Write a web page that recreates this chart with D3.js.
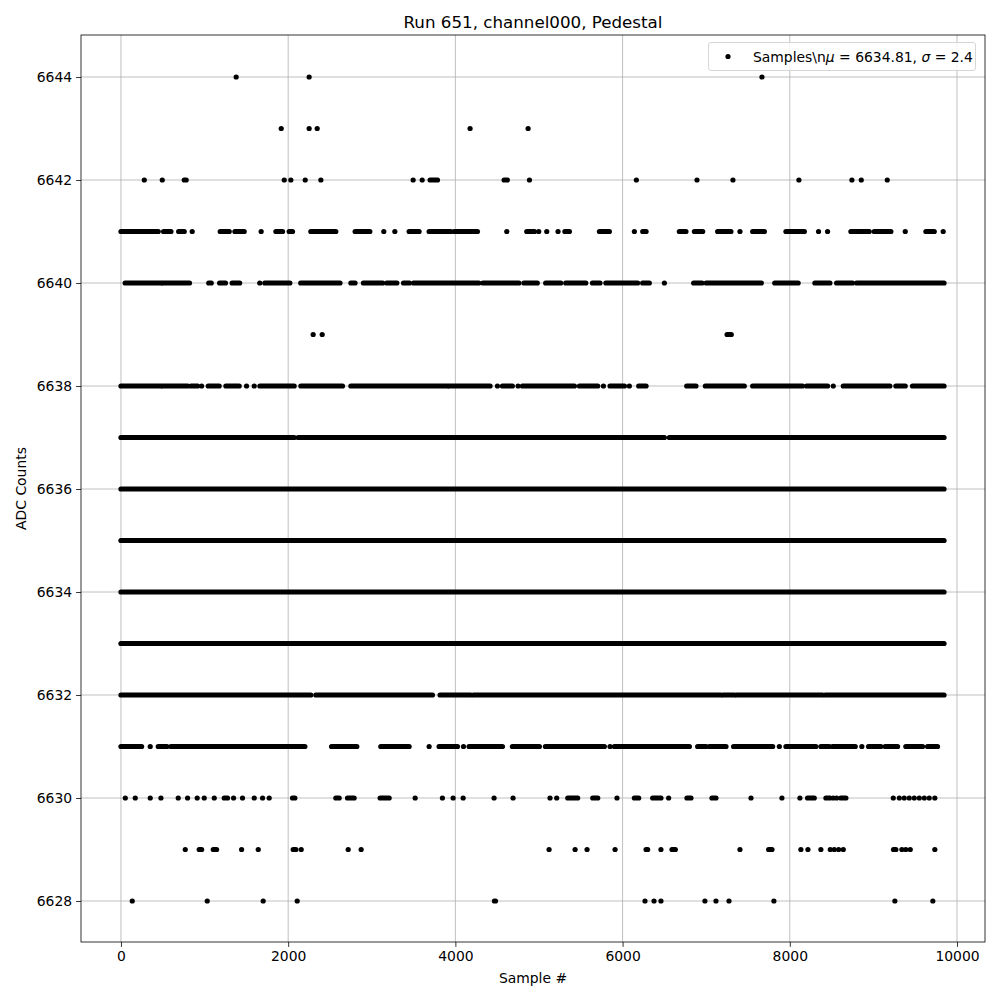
<!DOCTYPE html>
<html>
<head>
<meta charset="utf-8">
<script src="https://cdn.jsdelivr.net/npm/d3@7"></script>
<style>
  body { margin: 0; background: #fff; }
  svg text { font-family: "DejaVu Sans", sans-serif; fill: #000; }
</style>
</head>
<body>
<svg id="graph" width="1000" height="1000"></svg>
<script>
// Niveaux ADC et runs d'échantillons [début, fin]
const levels = [6628, 6629, 6630, 6631, 6632, 6633, 6634, 6635, 6636, 6637, 6638, 6639, 6640, 6641, 6642, 6643, 6644];
const xTicks = [0, 2000, 4000, 6000, 8000, 10000];
const yTicks = [6628, 6630, 6632, 6634, 6636, 6638, 6640, 6642, 6644];

const runs6644 = [[1378, 1378], [2251, 2251], [7667, 7667]];
const runs6643 = [[1917, 1917], [2251, 2251], [2347, 2347], [4176, 4176], [4870, 4870]];
const runs6642 = [[279, 279], [494, 494], [757, 780], [1953, 1953], [2032, 2032], [2204, 2204], [2391, 2391],
  [3495, 3495], [3603, 3603], [3698, 3786], [4583, 4622], [4886, 4886], [6165, 6165], [6890, 6890],
  [7320, 7320], [8109, 8109], [8743, 8743], [8855, 8855], [9166, 9166]];
const runs6641 = [[0, 446], [510, 598], [690, 757], [852, 852], [1187, 1295], [1363, 1474], [1677, 1677],
  [1853, 1933], [2012, 2052], [2271, 2570], [2801, 2977], [3144, 3144], [3276, 3276], [3447, 3566],
  [3686, 3945], [3985, 4264], [4615, 4615], [4854, 4946], [4997, 4997], [5093, 5093], [5228, 5228],
  [5310, 5364], [5723, 5842], [6141, 6141], [6241, 6281], [6679, 6758], [6859, 6958], [7137, 7296],
  [7404, 7404], [7556, 7696], [7954, 8174], [8344, 8344], [8452, 8452], [8731, 8950], [9010, 9209],
  [9381, 9381], [9628, 9728], [9835, 9835]];
const runs6640 = [[50, 480], [500, 820], [1050, 1080], [1180, 1250], [1330, 1420], [1660, 1660],
  [1720, 2020], [2150, 2620], [2750, 2800], [2900, 3130], [3180, 3300], [3380, 3450], [3500, 4280],
  [4330, 4760], [4820, 4980], [5080, 5260], [5320, 5560], [5640, 5730], [5800, 6180], [6240, 6320],
  [6500, 6500], [6850, 6950], [7000, 7660], [7820, 8100], [8300, 8480], [8560, 8750], [8800, 9845]];
const runs6639 = [[2299, 2299], [2407, 2407], [7250, 7300]];
const runs6638 = [[0, 478], [498, 797], [837, 917], [965, 965], [1044, 1175], [1255, 1414], [1502, 1502],
  [1594, 1594], [1662, 2072], [2152, 2650], [2750, 3905], [3925, 4415], [4503, 4503], [4563, 4682],
  [4750, 4750], [4802, 5424], [5484, 5703], [5771, 5771], [5850, 6022], [6081, 6081], [6193, 6281],
  [6767, 6878], [6990, 7456], [7556, 8153], [8201, 8452], [8520, 8520], [8640, 9197], [9269, 9381],
  [9468, 9845]];
const runs6637 = [[0, 2072], [2120, 6500], [6560, 9845]];
const runs6636 = [[0, 9845]];
const runs6635 = [[0, 9845]];
const runs6634 = [[0, 9845]];
const runs6633 = [[0, 9845]];
const runs6632 = [[0, 2271], [2331, 3726], [3817, 4184], [4216, 7177], [7205, 7337], [7364, 8392], [8424, 9845]];
const runs6631 = [[0, 247], [350, 350], [446, 550], [598, 2200], [2519, 2821], [3108, 3447], [3686, 3686],
  [3805, 4025], [4097, 4097], [4164, 4563], [4682, 5005], [5077, 5782], [5850, 5850], [5902, 6799],
  [6898, 6998], [7038, 7237], [7328, 7795], [7875, 7875], [7954, 8312], [8372, 8472], [8512, 8783],
  [8862, 8862], [8942, 9089], [9141, 9289], [9388, 9588], [9648, 9767]];
const runs6630 = [[52, 52], [171, 171], [350, 350], [478, 478], [685, 685], [797, 797], [912, 912],
  [996, 996], [1116, 1116], [1235, 1275], [1347, 1347], [1454, 1454], [1594, 1594], [1694, 1694],
  [1773, 1773], [2052, 2080], [2570, 2610], [2710, 2789], [3100, 3208], [3519, 3519], [3845, 3845],
  [3973, 3973], [4093, 4093], [4463, 4463], [4690, 4690], [5132, 5132], [5212, 5212], [5344, 5463],
  [5643, 5703], [5933, 5933], [6141, 6193], [6360, 6459], [6551, 6551], [6770, 6818], [7069, 7117],
  [7536, 7536], [7906, 7906], [8121, 8121], [8213, 8293], [8432, 8480], [8520, 8520], [8560, 8560],
  [8610, 8671], [9238, 9238], [9310, 9310], [9369, 9369], [9429, 9429], [9489, 9489], [9549, 9549],
  [9609, 9609], [9668, 9668], [9735, 9735]];
const runs6629 = [[769, 769], [936, 965], [1104, 1144], [1443, 1443], [1642, 1642], [2060, 2092],
  [2156, 2156], [2718, 2718], [2873, 2873], [5121, 5121], [5432, 5432], [5575, 5575], [5910, 5910],
  [6281, 6300], [6459, 6459], [6591, 6631], [7404, 7404], [7747, 7787], [8133, 8133], [8217, 8217],
  [8372, 8372], [8484, 8484], [8532, 8532], [8584, 8584], [8640, 8640], [9241, 9269], [9341, 9341],
  [9388, 9388], [9441, 9441], [9735, 9735]];
const runs6628 = [[135, 135], [1032, 1032], [1701, 1701], [2108, 2108], [4467, 4480], [6268, 6268],
  [6376, 6376], [6459, 6459], [6985, 6985], [7117, 7117], [7273, 7273], [7810, 7810], [9257, 9257],
  [9711, 9711]];

const runsParNiveau = {
  6628: runs6628, 6629: runs6629, 6630: runs6630, 6631: runs6631, 6632: runs6632, 6633: runs6633,
  6634: runs6634, 6635: runs6635, 6636: runs6636, 6637: runs6637, 6638: runs6638, 6639: runs6639,
  6640: runs6640, 6641: runs6641, 6642: runs6642, 6643: runs6643, 6644: runs6644
};

// Table plate des segments
const segments = [];
levels.forEach(lvl => runsParNiveau[lvl].forEach(r => segments.push({ y: lvl, x0: r[0], x1: r[1] })));

const margeG = 81, margeD = 985, margeH = 35, margeB = 942;
const svg = d3.select("svg");

const xScale = d3.scaleLinear().domain([-478, 10335]).range([margeG, margeD]);
const yScale = d3.scaleLinear().domain([6627.204, 6644.816]).range([margeB, margeH]);

// Grille
const grille = svg.append("g");
grille.selectAll(".gx").data(xTicks).enter().append("line")
  .attr("x1", d => xScale(d)).attr("x2", d => xScale(d))
  .attr("y1", margeH).attr("y2", margeB)
  .attr("stroke", "#b0b0b0").attr("stroke-width", 0.8);
grille.selectAll(".gy").data(yTicks).enter().append("line")
  .attr("x1", margeG).attr("x2", margeD)
  .attr("y1", d => yScale(d)).attr("y2", d => yScale(d))
  .attr("stroke", "#b0b0b0").attr("stroke-width", 0.8);

// Points (segments continus pour les runs denses)
const pts = svg.append("g");
pts.selectAll("line.run").data(segments.filter(s => s.x1 > s.x0)).enter().append("line")
  .attr("class", "run")
  .attr("x1", d => xScale(d.x0)).attr("x2", d => xScale(d.x1))
  .attr("y1", d => yScale(d.y)).attr("y2", d => yScale(d.y))
  .attr("stroke", "#000").attr("stroke-width", 5.2).attr("stroke-linecap", "round");
pts.selectAll("circle").data(segments.filter(s => s.x1 === s.x0)).enter().append("circle")
  .attr("cx", d => xScale(d.x0)).attr("cy", d => yScale(d.y)).attr("r", 2.6)
  .attr("fill", "#000");

// Axes
const xAxis = svg.append("g").attr("transform", `translate(0,${margeB})`)
  .call(d3.axisBottom(xScale).tickValues(xTicks).tickFormat(d3.format("d")).tickSizeOuter(0).tickSize(4.9).tickPadding(4));
const yAxis = svg.append("g").attr("transform", `translate(${margeG},0)`)
  .call(d3.axisLeft(yScale).tickValues(yTicks).tickFormat(d3.format("d")).tickSizeOuter(0).tickSize(4.9).tickPadding(4));
[xAxis, yAxis].forEach(a => {
  a.select(".domain").remove();
  a.selectAll(".tick line").attr("stroke", "#000").attr("stroke-width", 0.8);
  a.selectAll(".tick text").style("font-size", "13.9px").style("font-family", "DejaVu Sans");
});

// Cadre
svg.append("rect").attr("x", margeG).attr("y", margeH)
  .attr("width", margeD - margeG).attr("height", margeB - margeH)
  .attr("fill", "none").attr("stroke", "#000").attr("stroke-width", 0.8);

// Titres
svg.append("text").text("Run 651, channel000, Pedestal")
  .attr("x", (margeG + margeD) / 2).attr("y", 28).attr("text-anchor", "middle")
  .style("font-size", "16.7px");
svg.append("text").text("Sample #")
  .attr("x", (margeG + margeD) / 2).attr("y", 983).attr("text-anchor", "middle")
  .style("font-size", "13.9px");
svg.append("text").text("ADC Counts")
  .attr("transform", `translate(26,${(margeH + margeB) / 2}) rotate(-90)`)
  .attr("text-anchor", "middle")
  .style("font-size", "13.9px");

// Légende
const leg = svg.append("g");
leg.append("rect").attr("x", 708.5).attr("y", 42.5).attr("width", 267).attr("height", 28)
  .attr("rx", 2.5).attr("fill", "#fff").attr("fill-opacity", 0.8)
  .attr("stroke", "#cccccc").attr("stroke-width", 0.8);
leg.append("circle").attr("cx", 728).attr("cy", 56.5).attr("r", 2.6).attr("fill", "#000");
const lt = leg.append("text").attr("x", 753).attr("y", 61.5).style("font-size", "13.9px");
lt.append("tspan").text("Samples\\n");
lt.append("tspan").text("μ").style("font-style", "italic");
lt.append("tspan").text(" = 6634.81, ");
lt.append("tspan").text("σ").style("font-style", "italic");
lt.append("tspan").text(" = 2.4");
</script>
</body>
</html>
